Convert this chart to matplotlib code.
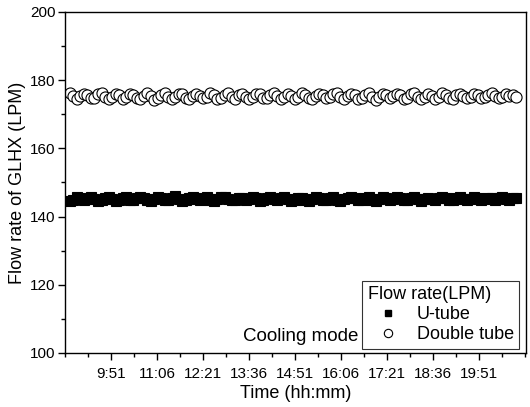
import numpy as np
import matplotlib
matplotlib.use("Agg")
import matplotlib.pyplot as plt
from matplotlib.lines import Line2D

plt.rcParams['font.family'] = ['Liberation Sans', 'DejaVu Sans']

# ---- data ----
start_min = 524   # 8:44
end_min = 1251    # 20:51
double_tube = [
    176.1,175.3,174.5,175.4,176.0,175.6,174.7,174.9,175.8,176.2,
    175.1,174.4,175.2,175.9,175.5,174.6,175.0,176.0,175.7,174.8,
    174.5,175.3,176.1,175.4,174.3,174.8,175.6,176.2,175.2,174.6,
    175.1,175.9,175.8,174.9,174.4,175.4,176.0,175.3,174.7,175.2,
    176.3,175.6,174.5,174.8,175.7,176.1,175.0,174.6,175.5,175.9,
    175.2,174.4,175.1,176.0,175.8,174.7,174.9,175.6,176.2,175.3,
    174.5,175.0,175.9,175.4,174.6,175.2,176.1,175.7,174.8,174.4,
    175.3,176.0,175.5,174.7,175.1,175.8,176.2,175.0,174.5,175.4,
    175.9,175.6,174.6,174.9,175.7,176.1,175.2,174.3,175.0,175.8,
    175.5,174.7,175.3,176.0,175.6,174.5,174.8,175.9,176.2,175.1,
    174.6,175.2,175.8,175.4,174.4,175.0,176.1,175.7,174.9,174.6,
    175.5,176.0,175.3,174.7,175.1,175.9,175.6,174.8,175.0,175.7,
    176.1,175.4,174.9,175.2,175.8,175.3,175.6,175.2]
u_tube = [
    144.7,145.0,145.6,145.2,144.8,145.4,145.8,145.1,144.7,145.0,
    145.5,145.7,145.2,144.6,144.9,145.4,145.6,145.0,144.8,145.3,
    145.8,145.5,144.9,144.7,145.1,145.6,145.3,144.8,145.0,145.5,
    145.9,145.2,144.7,145.0,145.4,145.7,145.1,144.9,145.3,145.6,
    145.0,144.6,145.2,145.7,145.8,145.1,144.8,145.0,145.5,145.3,
    144.9,145.2,145.6,145.4,144.7,144.8,145.3,145.7,145.1,144.9,
    145.4,145.8,145.2,144.7,145.0,145.5,145.3,144.8,144.7,145.2,
    145.6,145.5,144.9,144.8,145.3,145.7,145.0,144.6,145.1,145.4,
    145.8,145.3,144.8,145.0,145.5,145.6,145.0,144.7,145.2,145.7,
    145.4,144.9,145.1,145.6,145.3,144.8,145.0,145.4,145.8,145.2,
    144.7,145.1,145.5,145.2,144.8,145.3,145.7,145.4,144.9,145.0,
    145.5,145.6,145.1,144.8,145.2,145.7,145.3,144.9,145.1,145.5,
    145.4,145.0,145.3,145.6,145.2,144.9,145.3,145.4]
tick_labels = ['9:51', '11:06', '12:21', '13:36', '14:51', '16:06', '17:21', '18:36', '19:51']
xlim_min = (516, 1267)

def to_min(s):
    h, m = s.split(':')
    return int(h) * 60 + int(m)

t = np.linspace(start_min, end_min, len(u_tube))

fig = plt.figure(figsize=(5.30, 4.07), dpi=100)
ax = fig.add_axes([0.1226, 0.1327, 0.8699, 0.838])

ax.plot(t, u_tube, ls='none', marker='s', ms=7, mfc='black', mec='black', mew=0.8)
ax.plot(t, double_tube, ls='none', marker='o', ms=8, mfc='white', mec='black', mew=0.8)

ax.set_xlim(*xlim_min)
ax.set_ylim(100, 200)
major = [to_min(s) for s in tick_labels]
ax.set_xticks(major)
ax.set_xticklabels(tick_labels)
ax.set_xticks(np.arange(xlim_min[0], xlim_min[1] + 1, 37.5), minor=True)
ax.set_yticks(np.arange(100, 201, 20))
ax.set_yticks(np.arange(100, 201, 10), minor=True)
ax.tick_params(which='major', direction='out', length=5, width=1, labelsize=11, pad=2)
ax.tick_params(which='minor', direction='out', length=3, width=1)
ax.tick_params(axis='x', which='major', pad=5)
for sp in ax.spines.values():
    sp.set_linewidth(1)

ax.set_xlabel('Time (hh:mm)', fontsize=13, labelpad=3)
ax.set_ylabel('Flow rate of GLHX (LPM)', fontsize=13, labelpad=3)

handles = [Line2D([], [], ls='none', marker='s', ms=5, mfc='black', mec='black'),
           Line2D([], [], ls='none', marker='o', ms=6, mfc='white', mec='black', mew=0.8)]
leg = ax.legend(handles, ['U-tube', 'Double tube'], title='Flow rate(LPM)',
                loc='lower right', bbox_to_anchor=(0.985, 0.012), fontsize=13,
                title_fontsize=13, frameon=True, fancybox=False, edgecolor='black',
                handlelength=2.2, handletextpad=0.5, borderpad=0.3, labelspacing=0.18,
                borderaxespad=0.0)
leg.get_frame().set_linewidth(0.8)
leg._legend_box.align = 'left'

ax.text(0.386, 0.022, 'Cooling mode', transform=ax.transAxes, fontsize=13.5,
        ha='left', va='bottom')

fig.savefig('out.png', dpi=100)
